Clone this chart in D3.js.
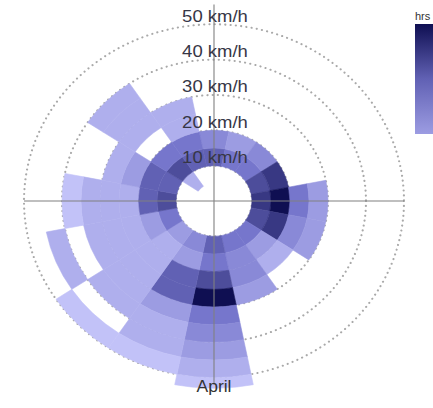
<!DOCTYPE html>
<html><head><meta charset="utf-8">
<script src="https://cdn.jsdelivr.net/npm/d3@7"></script>
<style>body{margin:0;background:#fff} svg{display:block}</style>
</head><body>
<script>
// ---- data ----
const directions = ["N","NNE","NE","ENE","E","ESE","SE","SSE","S","SSW","SW","WSW","W","WNW","NW","NNW"];
const speedEdges = [5,10,15,20,25,30,35,40,45,50,53];
const gridSpeeds = [10,20,30,40,50];
const gridLabels = ["10 km/h","20 km/h","30 km/h","40 km/h","50 km/h"];
const monthLabel = "April";
const legendTitle = "hrs";
// hours per direction (rows) and speed bin (columns, from 5-10 km/h upward)
const hours = [
  [0,6,4],                 // N
  [0,5,3],                 // NNE
  [0,5,4],                 // NE
  [0,7,8],                 // ENE
  [0,8,10,5,3],            // E
  [0,7,8,4,3],             // ESE
  [0,5,3,2],               // SE
  [0,5,4,4,3],             // SSE
  [0,6,5,7,10,5,4,3,2,1],  // S
  [0,4,3,6,6,3,2,2,1],     // SSW
  [0,3,2,2,2,2,2,0,1],     // SW
  [0,5,3,2,2,2,0,2],       // WSW
  [0,7,6,2,2,2,1],         // W
  [0,6,6,3,2],             // WNW
  [2,7,5,0,2,2,2],         // NW
  [0,6,5,2,2]              // NNW
];

// ---- layout ----
const W = 433, H = 408, cx = 214, cy = 201, squish = 0.93;
const r = d3.scaleLinear().domain([0, 50]).range([0, 190]);
const ang = d3.scaleBand().domain(directions)
  .range([-Math.PI / directions.length, 2 * Math.PI - Math.PI / directions.length]).padding(0);
const color = d3.scaleLinear().domain([1, 5, 10]).range(["#c2c2f8", "#7676cc", "#0f0f52"]);

const svg = d3.select("body").append("svg").attr("width", W).attr("height", H);
const defs = svg.append("defs");
const g = svg.append("g").attr("transform", `translate(${cx},${cy}) scale(1,${squish})`);

// grid circles (under cells)
g.selectAll("circle.grid").data(gridSpeeds).join("circle")
  .attr("class", "grid").attr("r", d => r(d))
  .attr("fill", "none").attr("stroke", "#a9a9a9").attr("stroke-width", 2.2)
  .attr("stroke-dasharray", "0.1,5.2").attr("stroke-linecap", "round");

// cells
const cells = [];
hours.forEach((row, i) => row.forEach((v, j) => {
  if (v > 0) cells.push({dir: directions[i], inner: speedEdges[j], outer: speedEdges[j + 1], v});
}));
const arc = d3.arc()
  .innerRadius(d => r(d.inner)).outerRadius(d => r(d.outer))
  .startAngle(d => ang(d.dir)).endAngle(d => ang(d.dir) + ang.bandwidth());
g.selectAll("path.cell").data(cells).join("path")
  .attr("class", "cell").attr("d", arc)
  .attr("fill", d => color(d.v)).attr("stroke", d => color(d.v)).attr("stroke-width", 0.6);

// axis cross
g.append("line").attr("x1", -r(50)).attr("x2", r(50)).attr("y1", 0).attr("y2", 0)
  .attr("stroke", "#808080").attr("stroke-width", 1.1);
g.append("line").attr("x1", 0).attr("x2", 0).attr("y1", -r(55.6)).attr("y2", r(52))
  .attr("stroke", "#808080").attr("stroke-width", 1.1);

// radial labels
g.selectAll("text.lab").data(gridSpeeds).join("text")
  .attr("class", "lab").attr("x", 1).attr("y", d => -r(d) - 3)
  .attr("text-anchor", "middle")
  .style("font-family", "Liberation Sans, Arial, sans-serif").style("font-size", "18.5px")
  .attr("fill", "#363646")
  .text((d, i) => gridLabels[i]);

g.append("text").attr("x", 0).attr("y", r(speedEdges[speedEdges.length - 1]) + 4)
  .attr("text-anchor", "middle")
  .style("font-family", "Liberation Sans, Arial, sans-serif").style("font-size", "17.5px")
  .attr("fill", "#333").text(monthLabel);

// colour legend
const grad = defs.append("linearGradient").attr("id", "lg").attr("x1", 0).attr("x2", 0).attr("y1", 0).attr("y2", 1);
grad.append("stop").attr("offset", "0%").attr("stop-color", color(10));
grad.append("stop").attr("offset", "50%").attr("stop-color", color(6));
grad.append("stop").attr("offset", "100%").attr("stop-color", color(3));
svg.append("rect").attr("x", 415).attr("y", 24).attr("width", 30).attr("height", 110).attr("fill", "url(#lg)");
svg.append("text").attr("x", 415).attr("y", 20)
  .style("font-family", "Liberation Sans, Arial, sans-serif").style("font-size", "11px")
  .attr("fill", "#333").text(legendTitle);
</script>
</body></html>
